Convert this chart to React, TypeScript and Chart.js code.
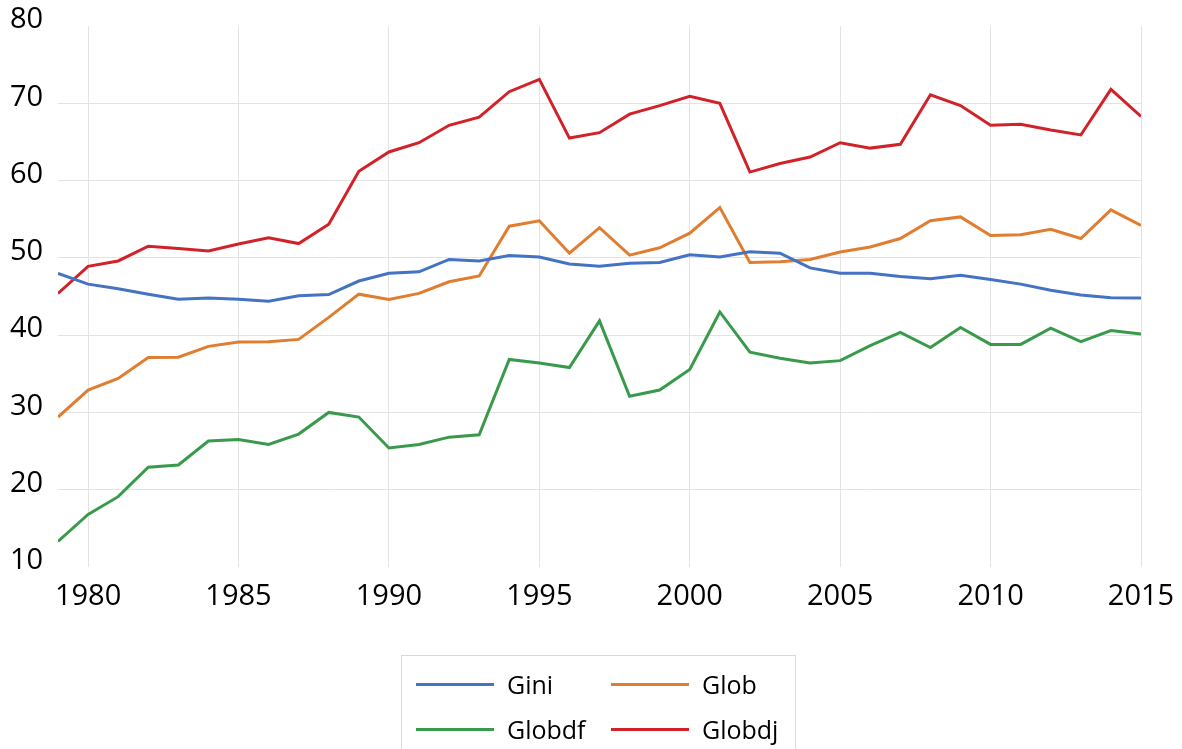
import React, { useEffect, useRef } from "react";
import { Chart, registerables } from "chart.js";

Chart.register(...registerables);

const years = [
  1979, 1980, 1981, 1982, 1983, 1984, 1985, 1986, 1987, 1988, 1989, 1990,
  1991, 1992, 1993, 1994, 1995, 1996, 1997, 1998, 1999, 2000, 2001, 2002,
  2003, 2004, 2005, 2006, 2007, 2008, 2009, 2010, 2011, 2012, 2013, 2014, 2015,
];

const gini = [
  48.0, 46.6, 46.0, 45.3, 44.65, 44.8, 44.65, 44.4, 45.1, 45.25, 47.0, 48.0,
  48.2, 49.8, 49.6, 50.3, 50.1, 49.2, 48.9, 49.3, 49.4, 50.4, 50.1, 50.8,
  50.6, 48.7, 48.0, 48.0, 47.6, 47.3, 47.75, 47.2, 46.6, 45.8, 45.2, 44.85, 44.8,
];

const glob = [
  29.4, 32.9, 34.4, 37.1, 37.15, 38.55, 39.1, 39.15, 39.45, 42.3, 45.3, 44.6,
  45.4, 46.9, 47.65, 54.1, 54.8, 50.6, 53.9, 50.35, 51.3, 53.2, 56.5, 49.4,
  49.5, 49.8, 50.75, 51.4, 52.5, 54.8, 55.3, 52.9, 53.0, 53.7, 52.5, 56.2, 54.2,
];

const globdf = [
  13.3, 16.8, 19.1, 22.9, 23.2, 26.3, 26.5, 25.85, 27.2, 30.0, 29.4, 25.4,
  25.85, 26.8, 27.1, 36.85, 36.4, 35.8, 41.85, 32.1, 32.9, 35.55, 43.0, 37.8,
  37.0, 36.4, 36.7, 38.65, 40.35, 38.4, 41.0, 38.8, 38.8, 40.9, 39.15, 40.6, 40.15,
];

const globdj = [
  45.4, 48.9, 49.6, 51.5, 51.2, 50.9, 51.8, 52.6, 51.85, 54.35, 61.2, 63.7,
  64.9, 67.15, 68.2, 71.5, 73.1, 65.5, 66.2, 68.6, 69.7, 70.9, 70.0, 61.1,
  62.2, 63.05, 64.9, 64.2, 64.7, 71.1, 69.7, 67.15, 67.3, 66.55, 65.9, 71.8, 68.3,
];

const seriesNames = ["Gini", "Glob", "Globdf", "Globdj"];
const seriesColors = ["#4472C4", "#E07D30", "#3A9A4C", "#D12229"];
const yTicks = [10, 20, 30, 40, 50, 60, 70, 80];
const xTicks = [1980, 1985, 1990, 1995, 2000, 2005, 2010, 2015];

const FONT = "'Open Sans', 'Liberation Sans', sans-serif";

export default function App() {
  const canvasRef = useRef<HTMLCanvasElement | null>(null);

  useEffect(() => {
    const canvas = canvasRef.current;
    if (!canvas) return;
    const allSeries = [gini, glob, globdf, globdj];
    const chart = new Chart(canvas, {
      type: "line",
      data: {
        labels: years,
        datasets: allSeries.map((d, i) => ({
          label: seriesNames[i],
          data: d,
          borderColor: seriesColors[i],
          backgroundColor: seriesColors[i],
          borderWidth: 3,
          pointRadius: 0,
          tension: 0,
          fill: false,
        })),
      },
      options: {
        responsive: false,
        animation: false,
        events: [],
        layout: { padding: { left: 10, top: 26, right: 41, bottom: 0 } },
        plugins: {
          legend: { display: false },
          tooltip: { enabled: false },
        },
        scales: {
          x: {
            type: "linear",
            min: years[0],
            max: years[years.length - 1],
            afterBuildTicks: (scale: any) => {
              scale.ticks = xTicks.map((v) => ({ value: v }));
            },
            afterFit: (scale: any) => {
              scale.height = 182;
              scale.paddingLeft = 0;
              scale.paddingRight = 0;
            },
            border: { display: false },
            grid: { color: "#e3e3e3", lineWidth: 1, drawTicks: false },
            ticks: {
              autoSkip: false,
              maxRotation: 0,
              padding: 12,
              color: "#000",
              font: { family: FONT, size: 29 },
              callback: (v: any) => String(v),
            },
          },
          y: {
            min: yTicks[0],
            max: yTicks[yTicks.length - 1],
            afterBuildTicks: (scale: any) => {
              scale.ticks = yTicks.map((v) => ({ value: v }));
            },
            afterFit: (scale: any) => {
              scale.width = 48;
            },
            border: { display: false },
            grid: {
              drawTicks: false,
              lineWidth: 1,
              color: (ctx: any) =>
                ctx.tick && (ctx.tick.value === yTicks[0] || ctx.tick.value === yTicks[yTicks.length - 1])
                  ? "rgba(0,0,0,0)"
                  : "#e3e3e3",
            },
            ticks: {
              crossAlign: "far",
              labelOffset: -6,
              color: "#000",
              font: { family: FONT, size: 29 },
            },
          },
        },
      },
    });
    return () => chart.destroy();
  }, []);

  const legendItems = seriesNames.map((n, i) => ({ name: n, color: seriesColors[i] }));

  return (
    <div
      style={{
        position: "fixed",
        left: 0,
        top: 0,
        width: 1182,
        height: 749,
        overflow: "hidden",
        background: "#fff",
      }}
    >
      <canvas ref={canvasRef} width={1182} height={749} style={{ display: "block" }} />
      <div
        style={{
          position: "absolute",
          left: 401,
          top: 655,
          width: 395,
          height: 120,
          border: "1px solid #d9d9d9",
          boxSizing: "border-box",
          fontFamily: FONT,
          fontSize: 25,
          color: "#000",
        }}
      >
        {legendItems.map((it, i) => {
          const col = i % 2;
          const row = Math.floor(i / 2);
          return (
            <div
              key={it.name}
              style={{
                position: "absolute",
                left: 14 + col * 195,
                top: 28 + row * 45 - 18,
                height: 36,
                display: "flex",
                alignItems: "center",
                whiteSpace: "nowrap",
              }}
            >
              <span
                style={{
                  display: "inline-block",
                  width: 78,
                  height: 3,
                  background: it.color,
                  marginRight: 13,
                }}
              />
              <span style={{ lineHeight: "36px" }}>{it.name}</span>
            </div>
          );
        })}
      </div>
    </div>
  );
}
